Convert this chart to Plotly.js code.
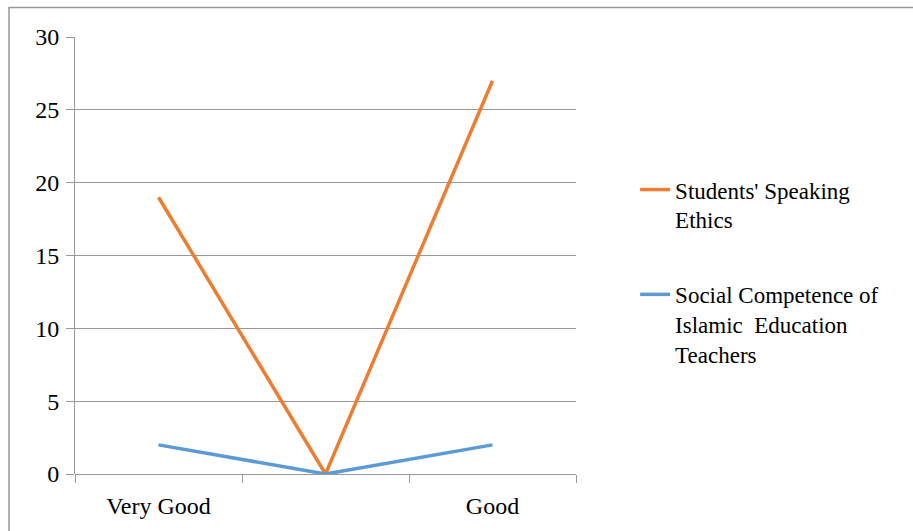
<!DOCTYPE html>
<html>
<head>
<meta charset="utf-8">
<script src="https://cdn.plot.ly/plotly-3.0.1.min.js"></script>
<style>html,body{margin:0;padding:0;background:#fff;}#chart{width:913px;height:531px;}</style>
</head>
<body>
<div id="chart"></div>
<script>
var categories = ['Very Good', ' ', 'Good'];
var speakingEthics = [19, 0, 27];
var socialCompetence = [2, 0, 2];
var seriesNames = ["Students' Speaking<br>Ethics", "Social Competence of<br>Islamic  Education<br>Teachers"];
var yTicks = [0, 5, 10, 15, 20, 25, 30];

var FONT = "Liberation Serif, serif";
var traces = [
  {x: categories, y: speakingEthics, name: seriesNames[0], type: 'scatter', mode: 'lines',
   line: {color: '#ED7D31', width: 3.5}, legendgroup: 'a'},
  {x: categories, y: socialCompetence, name: seriesNames[1], type: 'scatter', mode: 'lines',
   line: {color: '#5B9BD5', width: 3.5}, legendgroup: 'b'}
];
var layout = {
  width: 913, height: 531,
  margin: {l: 75, r: 337, t: 37, b: 57},
  paper_bgcolor: '#fff', plot_bgcolor: '#fff',
  font: {family: FONT, size: 24, color: '#000'},
  showlegend: true,
  legend: {x: 1.118, xanchor: 'left', y: 0.462, yanchor: 'middle', valign: 'top',
           font: {family: FONT, size: 23, color: '#000'}, tracegroupgap: 42, bgcolor: 'rgba(0,0,0,0)'},
  xaxis: {type: 'category', categoryorder: 'array', categoryarray: categories,
          range: [-0.5, 2.5], tickson: 'boundaries', ticks: 'outside', ticklen: 8,
          tickcolor: '#999', tickwidth: 1, showline: false, showgrid: false, zeroline: false,
          tickfont: {family: FONT, size: 24, color: '#000'}, ticklabelstandoff: 15, fixedrange: true},
  yaxis: {range: [0, 30], tickvals: yTicks, ticks: 'outside', ticklen: 8, tickcolor: '#999',
          showgrid: true, gridcolor: '#999', gridwidth: 1, showline: true, linecolor: '#999',
          zeroline: true, zerolinecolor: '#999', zerolinewidth: 1,
          tickfont: {family: FONT, size: 24, color: '#000'}, ticklabelstandoff: 2},
  shapes: [{type: 'rect', xref: 'paper', yref: 'paper', x0: -0.1317, x1: 1.8, y0: -0.2, y1: 1.0675,
            line: {color: '#999', width: 1.5}, fillcolor: 'rgba(0,0,0,0)', layer: 'below'}]
};
Plotly.newPlot('chart', traces, layout, {displayModeBar: false, staticPlot: true});
</script>
</body>
</html>
